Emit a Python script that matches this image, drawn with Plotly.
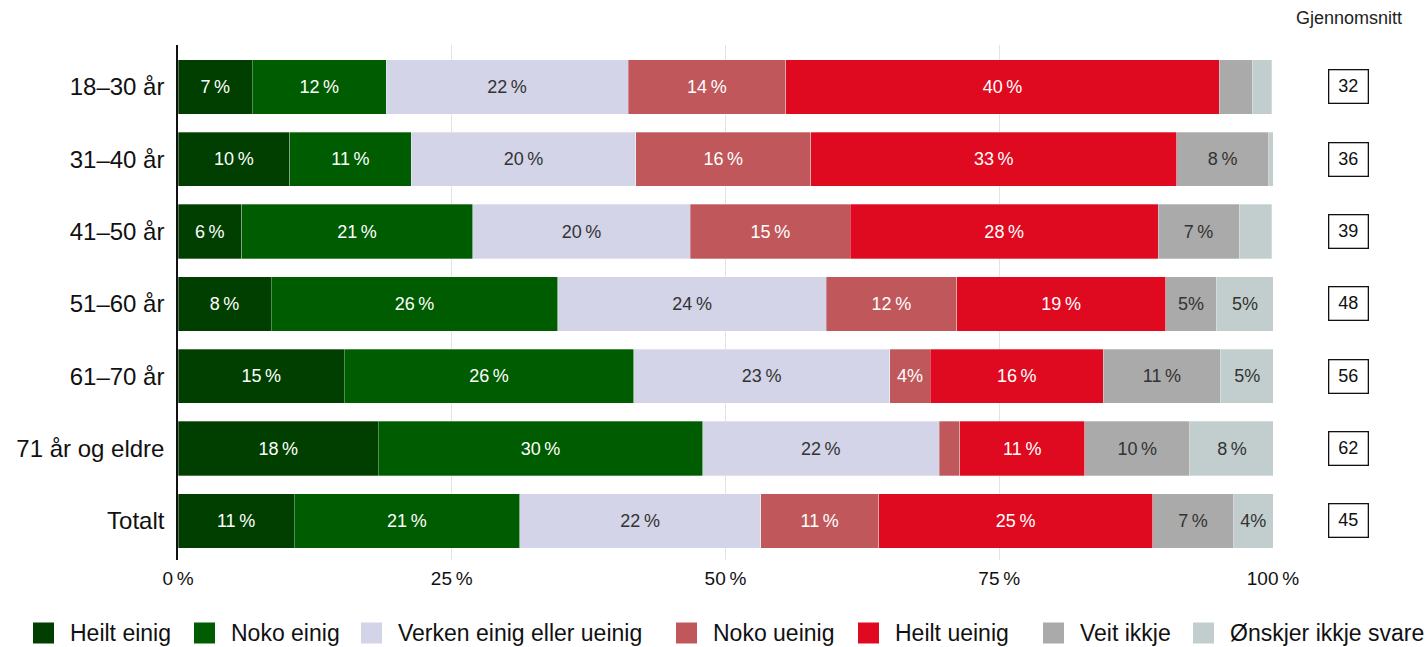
import plotly.graph_objects as go

categories = ["18–30 år", "31–40 år", "41–50 år", "51–60 år", "61–70 år", "71 år og eldre", "Totalt"]
series_names = ["Heilt einig", "Noko einig", "Verken einig eller ueinig", "Noko ueinig",
                "Heilt ueinig", "Veit ikkje", "Ønskjer ikkje svare"]

heilt_einig = [6.8, 10.2, 5.8, 8.5, 15.2, 18.3, 10.6]
noko_einig = [12.2, 11.1, 21.1, 26.2, 26.4, 29.6, 20.6]
verken = [22.1, 20.5, 19.9, 24.5, 23.4, 21.6, 22.0]
noko_ueinig = [14.4, 16.0, 14.6, 11.9, 3.7, 1.9, 10.8]
heilt_ueinig = [39.6, 33.4, 28.1, 19.1, 15.8, 11.4, 25.0]
veit_ikkje = [3.0, 8.4, 7.4, 4.6, 10.7, 9.6, 7.4]
onskjer_ikkje = [1.8, 0.4, 3.0, 5.3, 4.9, 7.7, 3.6]

gjennomsnitt = [32, 36, 39, 48, 56, 62, 45]

x_ticks = [0, 25, 50, 75, 100]
x_ticklabels = ["0\u202f%", "25\u202f%", "50\u202f%", "75\u202f%", "100\u202f%"]

series_values = [heilt_einig, noko_einig, verken, noko_ueinig, heilt_ueinig, veit_ikkje, onskjer_ikkje]
colors = ["#003f00", "#005c00", "#d4d4e8", "#c0585b", "#df0a20", "#aaaaaa", "#c2cece"]
text_colors = ["white", "white", "#333333", "white", "white", "#333333", "#333333"]

FONT = "Liberation Sans, Arial, sans-serif"

# figure geometry (px) used to place the layout-only legend and side boxes
W, H = 1427, 647
L, R, T, B = 178, 154, 45, 87
PW, PH = W - L - R, H - T - B


def px_x(x):
    return (x - L) / PW


def px_y(y):
    return (H - B - y) / PH


legend_left_px = [33, 194, 361, 676, 858, 1043, 1193]
legend_sym = 21
legend_y_px = 633


def label(v):
    if v < 3.5:
        return ""
    r = int(round(v))
    if v < 5.5:
        return f"{r}%"
    return f"{r}\u202f%"


fig = go.Figure()
for name, vals, col, tcol in zip(series_names, series_values, colors, text_colors):
    fig.add_trace(go.Bar(
        name=name,
        y=categories,
        x=vals,
        orientation="h",
        marker=dict(color=col, line=dict(color="rgba(255,255,255,0.6)", width=0.5)),
        width=0.75,
        text=[label(v) for v in vals],
        textposition="inside",
        insidetextanchor="middle",
        textangle=0,
        insidetextfont=dict(color=tcol, size=18, family=FONT),
        hoverinfo="x+name",
        showlegend=False,
    ))

annotations = [dict(
    text="Gjennomsnitt", xref="paper", yref="paper", x=px_x(1349), y=px_y(18),
    xanchor="center", yanchor="middle", showarrow=False,
    font=dict(size=18, color="#222222", family=FONT))]
for cat, g in zip(categories, gjennomsnitt):
    annotations.append(dict(
        text=str(g), xref="paper", yref="y", x=px_x(1348), y=cat,
        xanchor="center", yanchor="middle", showarrow=False,
        width=32, height=26, borderpad=3, bordercolor="#111111", borderwidth=1.3,
        bgcolor="white", font=dict(size=18, color="#111111", family=FONT)))

shapes = []
for name, col, lx in zip(series_names, colors, legend_left_px):
    shapes.append(dict(
        type="rect", xref="paper", yref="paper",
        x0=px_x(lx), x1=px_x(lx + legend_sym),
        y0=px_y(legend_y_px + legend_sym / 2), y1=px_y(legend_y_px - legend_sym / 2),
        fillcolor=col, line=dict(width=0)))
    annotations.append(dict(
        text=name, xref="paper", yref="paper", x=px_x(lx + 35), y=px_y(legend_y_px),
        xanchor="left", yanchor="middle", showarrow=False,
        font=dict(size=23, color="#111111", family=FONT)))

fig.update_layout(
    barmode="stack",
    width=W, height=H,
    margin=dict(l=L, r=R, t=T, b=B),
    paper_bgcolor="white", plot_bgcolor="white",
    font=dict(family=FONT, color="#111111"),
    xaxis=dict(
        range=[0, 100], tickvals=x_ticks, ticktext=x_ticklabels,
        showgrid=True, gridcolor="#e3e3e3", gridwidth=1,
        zeroline=False, showline=False, ticks="", ticklabelstandoff=5,
        tickfont=dict(size=19, color="#111111"),
    ),
    yaxis=dict(
        categoryorder="array", categoryarray=categories,
        autorange=False, range=[6.54, -0.58],
        showline=True, linecolor="#111111", linewidth=1.5,
        ticks="", ticklabelstandoff=7,
        tickfont=dict(size=24, color="#111111"),
    ),
    showlegend=False,
    annotations=annotations,
    shapes=shapes,
)

fig.write_html(
    "out.html",
    config={"displayModeBar": False},
    post_script="document.body.style.margin='0px';document.body.style.overflow='hidden';",
)
